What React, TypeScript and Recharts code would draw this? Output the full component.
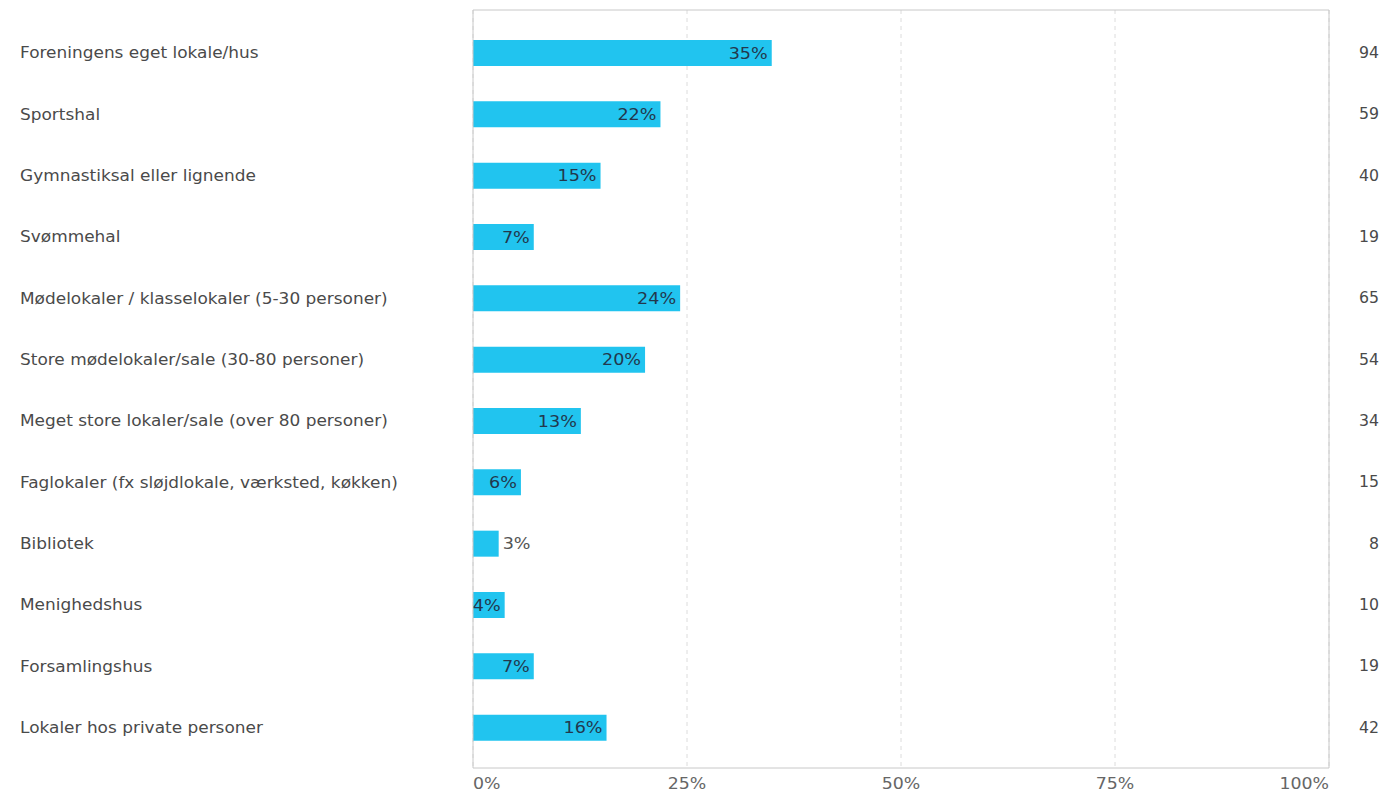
import React from "react";
import { BarChart, Bar, XAxis, YAxis, CartesianGrid, LabelList } from "recharts";

const categories = [
  "Foreningens eget lokale/hus",
  "Sportshal",
  "Gymnastiksal eller lignende",
  "Svømmehal",
  "Mødelokaler / klasselokaler (5-30 personer)",
  "Store mødelokaler/sale (30-80 personer)",
  "Meget store lokaler/sale (over 80 personer)",
  "Faglokaler (fx sløjdlokale, værksted, køkken)",
  "Bibliotek",
  "Menighedshus",
  "Forsamlingshus",
  "Lokaler hos private personer",
];
const shares = [34.9, 21.9, 14.9, 7.1, 24.2, 20.1, 12.6, 5.6, 3.0, 3.7, 7.1, 15.6];
const counts = [94, 59, 40, 19, 65, 54, 34, 15, 8, 10, 19, 42];
const xTicks = [0, 25, 50, 75, 100];

const data = categories.map((name, i) => ({ name, share: shares[i], count: counts[i] }));

const FONT = "'DejaVu Sans', Verdana, sans-serif";
const BAR = "#21c4ef";

// reference text is drawn wide, so stretch glyphs horizontally
const Wide = ({ x, y, sx, anchor, size, fill, children }: any) => (
  <text
    transform={`translate(${x},${y}) scale(${sx},1)`}
    x={0}
    y={0}
    dy="0.35em"
    textAnchor={anchor}
    fontSize={size}
    fontFamily={FONT}
    fill={fill}
  >
    {children}
  </text>
);

const LeftTick = (props: any) => (
  <Wide x={20} y={props.y} sx={1.06} anchor="start" size={16} fill="#4a4a4a">
    {props.payload.value}
  </Wide>
);

const BottomTick = (props: any) => {
  const { x, y, payload, index } = props;
  const anchor = index === 0 ? "start" : index === xTicks.length - 1 ? "end" : "middle";
  return (
    <Wide x={x} y={y + 8} sx={1.12} anchor={anchor} size={15.5} fill="#666">
      {`${payload.value}%`}
    </Wide>
  );
};

const ShareLabel = (props: any) => {
  const { x, y, width, height, value } = props;
  const text = `${Math.round(value)}%`;
  const textW = (text.length - 1) * 11.1 + 16.6;
  const inside = width >= textW;
  return (
    <Wide
      x={inside ? x + width - 4 : x + width + 4}
      y={y + height / 2}
      sx={1.1}
      anchor={inside ? "end" : "start"}
      size={16}
      fill={inside ? "#22384d" : "#555"}
    >
      {text}
    </Wide>
  );
};

const CountTick = (props: any) => (
  <Wide x={1379} y={props.y} sx={1.05} anchor="end" size={15} fill="#4a4a4a">
    {counts[props.index]}
  </Wide>
);

export default function App() {
  return (
    <div style={{ position: "absolute", left: 0, top: 0, background: "#fff" }}>
      <BarChart
        width={1387}
        height={800}
        data={data}
        layout="vertical"
        margin={{ top: 9, right: 0, bottom: 0, left: 0 }}
      >
        <CartesianGrid
          horizontal={false}
          stroke="#dcdcdc"
          strokeDasharray="4 4"
          xAxisId="bottom"
        />
        <XAxis
          xAxisId="bottom"
          type="number"
          domain={[0, 100]}
          ticks={xTicks}
          tick={<BottomTick />}
          tickLine={false}
          axisLine={{ stroke: "#c8c8c8" }}
          height={32}
        />
        <XAxis
          xAxisId="top"
          orientation="top"
          type="number"
          domain={[0, 100]}
          ticks={xTicks}
          tick={false}
          tickLine={false}
          axisLine={{ stroke: "#c8c8c8" }}
          height={1}
        />
        <YAxis
          yAxisId="left"
          type="category"
          dataKey="name"
          width={473}
          tick={<LeftTick />}
          tickLine={false}
          axisLine={{ stroke: "#c8c8c8" }}
          padding={{ top: 12, bottom: 10 }}
          interval={0}
        />
        <YAxis
          yAxisId="right"
          orientation="right"
          type="category"
          dataKey="name"
          width={58}
          tickLine={false}
          axisLine={{ stroke: "#c8c8c8" }}
          padding={{ top: 12, bottom: 10 }}
          interval={0}
          tick={<CountTick />}
        />
        <Bar
          dataKey="share"
          xAxisId="bottom"
          yAxisId="left"
          fill={BAR}
          barSize={26}
          isAnimationActive={false}
        >
          <LabelList dataKey="share" content={<ShareLabel />} />
        </Bar>
      </BarChart>
    </div>
  );
}
